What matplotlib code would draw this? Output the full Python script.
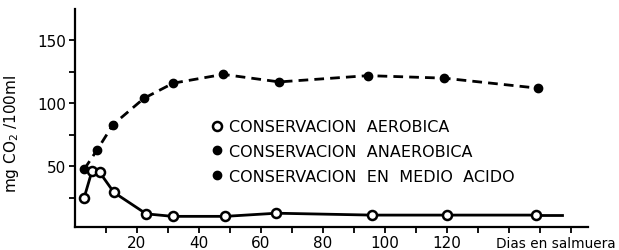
import matplotlib
matplotlib.use('Agg')
import matplotlib.pyplot as plt
from matplotlib import font_manager
from matplotlib.lines import Line2D

# dias en salmuera / mg CO2 por 100 ml
aer_x = [3, 5.5, 8, 12.6, 23, 31.5, 48.5, 65, 95.8, 120, 148.7]
aer_y = [25, 46, 45, 29, 12, 10, 10, 12.5, 11, 11, 11]
aer_end_x = [148.7, 157]
aer_end_y = [11, 11]

ana_x = [3, 7.2, 12.3, 22.3, 31.7, 47.8, 65.9, 94.5, 119, 149.4]
ana_y = [47.5, 63, 83, 104, 116, 123, 117, 122, 120, 112]

legend_labels = ["CONSERVACION  AEROBICA",
                 "CONSERVACION  ANAEROBICA",
                 "CONSERVACION  EN  MEDIO  ACIDO"]

x_ticks = list(range(10, 170, 10))
x_labels = ["20", "40", "60", "80", "100", "120"]
y_ticks = [25, 50, 75, 100, 125, 150]
y_labels = ["50", "100", "150"]

plt.rcParams['font.family'] = ['DejaVu Sans']

# fuente estrecha para el rotulo del eje x, si existe
try:
    font_manager.findfont("Liberation Sans Narrow", fallback_to_default=False)
    narrow, narrow_size = "Liberation Sans Narrow", 12.3
except ValueError:
    narrow, narrow_size = "DejaVu Sans", 9.8

fig = plt.figure(figsize=(6.19, 2.51), dpi=100)
ax = fig.add_axes([0.121, 0.092, 0.829, 0.868])

ax.plot(ana_x, ana_y, color="black", linestyle=(0, (3.5, 2.2)), linewidth=2,
        marker="o", markersize=6, markerfacecolor="black", zorder=3)
ax.plot(aer_end_x, aer_end_y, color="black", linewidth=2, zorder=2)
ax.plot(aer_x, aer_y, color="black", linewidth=2, marker="o", markersize=6.5,
        markerfacecolor="white", markeredgewidth=1.8, zorder=4)

ax.set_xlim(0, 165.5)
ax.set_ylim(1.6, 175)
ax.spines['top'].set_visible(False)
ax.spines['right'].set_visible(False)
ax.spines['left'].set_linewidth(1.6)
ax.spines['bottom'].set_linewidth(1.6)

ax.set_xticks(x_ticks)
ax.set_xticklabels([x_labels[(t // 20) - 1] if t % 20 == 0 and t <= 120 else ""
                    for t in x_ticks])
ax.set_yticks(y_ticks)
ax.set_yticklabels([str(t) if str(t) in y_labels else "" for t in y_ticks])
ax.tick_params(axis="both", direction="out", length=4, width=1.3,
               labelsize=11, pad=2)

ax.text(1.054, -0.04, "Dias en salmuera", transform=ax.transAxes,
        fontsize=narrow_size, family=narrow, va="top", ha="right")
ax.set_ylabel("mg CO$_2$ /100ml", fontsize=11)
ax.yaxis.set_label_coords(-0.105, 0.43)

handles = [
    Line2D([], [], linestyle="none", marker="o", markersize=6.5,
           markerfacecolor="white", markeredgecolor="black", markeredgewidth=1.8),
    Line2D([], [], linestyle="none", marker="o", markersize=6,
           color="black"),
    Line2D([], [], linestyle="none", marker="o", markersize=6,
           color="black"),
]
ax.legend(handles, legend_labels, loc="upper left",
          bbox_to_anchor=(0.245, 0.53), frameon=False, fontsize=11.5,
          handletextpad=0.3, handlelength=1.0, labelspacing=0.6,
          borderpad=0)

fig.savefig("out.png", dpi=100)
